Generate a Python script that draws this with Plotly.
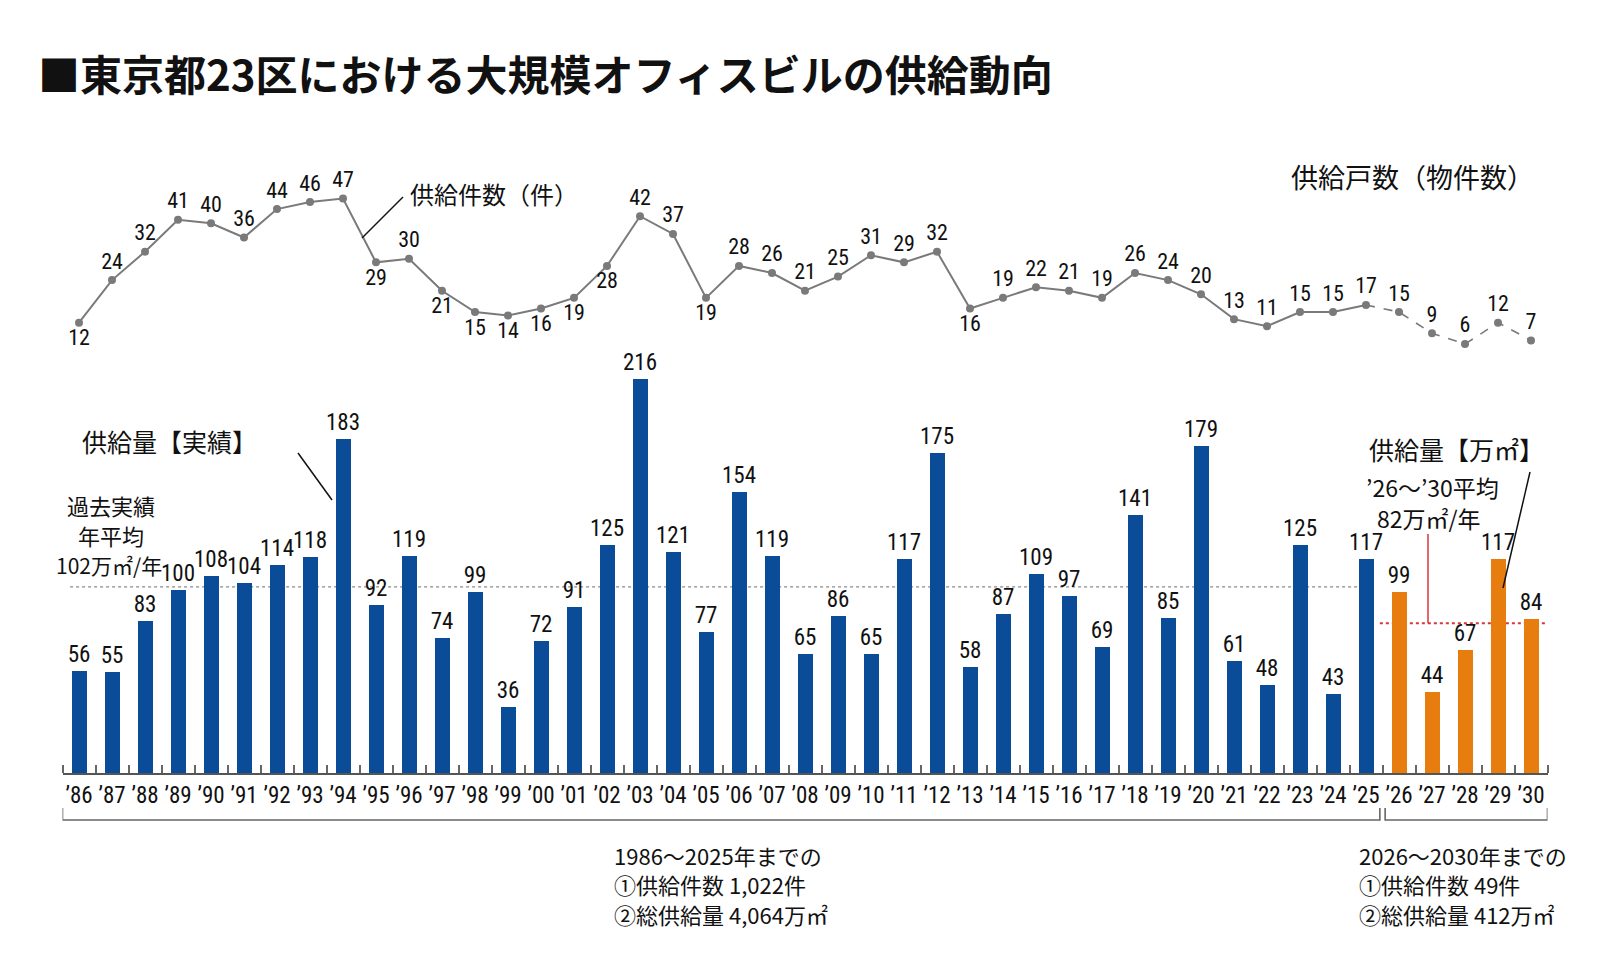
import plotly.graph_objects as go

W, H = 1617, 973

# data
YEARS = ["’86", "’87", "’88", "’89", "’90", "’91", "’92", "’93", "’94", "’95",
         "’96", "’97", "’98", "’99", "’00", "’01", "’02", "’03", "’04", "’05",
         "’06", "’07", "’08", "’09", "’10", "’11", "’12", "’13", "’14", "’15",
         "’16", "’17", "’18", "’19", "’20", "’21", "’22", "’23", "’24", "’25",
         "’26", "’27", "’28", "’29", "’30"]
SUPPLY = [56, 55, 83, 100, 108, 104, 114, 118, 183, 92,
          119, 74, 99, 36, 72, 91, 125, 216, 121, 77,
          154, 119, 65, 86, 65, 117, 175, 58, 87, 109,
          97, 69, 141, 85, 179, 61, 48, 125, 43, 117,
          99, 44, 67, 117, 84]
COUNTS = [12, 24, 32, 41, 40, 36, 44, 46, 47, 29,
          30, 21, 15, 14, 16, 19, 28, 42, 37, 19,
          28, 26, 21, 25, 31, 29, 32, 16, 19, 22,
          21, 19, 26, 24, 20, 13, 11, 15, 15, 17,
          15, 9, 6, 12, 7]
FORECAST = ["’26", "’27", "’28", "’29", "’30"]
COUNT_BELOW = ["’86", "’95", "’97", "’98", "’99", "’00", "’01", "’02", "’05", "’13"]
AVG_PAST = 102
AVG_PLAN = 82

BLUE = "#0B4C99"
ORANGE = "#E67D0E"
GRAY = "#7a7a7a"
RED = "#D8363C"
NUM_FONT = "Liberation Sans Narrow, Roboto Condensed, Noto Sans, sans-serif"
JP_FONT = "Noto Sans CJK JP, sans-serif"


def px(x):
    return x / W


def py(y):
    return 1 - y / H


xs = list(range(len(YEARS)))
last_actual = YEARS.index("’25")
bar_colors = [ORANGE if y in FORECAST else BLUE for y in YEARS]

fig = go.Figure()

fig.add_trace(go.Bar(
    x=xs, y=SUPPLY,
    marker=dict(color=bar_colors, line=dict(width=0)),
    width=0.48,
    text=SUPPLY, textposition="outside", constraintext="none",
    textfont=dict(family=NUM_FONT, size=23, color="#111"),
    cliponaxis=False,
    hoverinfo="x+y",
))

fig.add_trace(go.Scatter(
    x=xs[:last_actual + 1], y=COUNTS[:last_actual + 1],
    mode="lines", line=dict(color=GRAY, width=2),
    xaxis="x2", yaxis="y2", hoverinfo="skip",
))
fig.add_trace(go.Scatter(
    x=xs[last_actual:], y=COUNTS[last_actual:],
    mode="lines", line=dict(color=GRAY, width=1.6, dash="dash"),
    xaxis="x2", yaxis="y2", hoverinfo="skip",
))
fig.add_trace(go.Scatter(
    x=xs, y=COUNTS,
    mode="markers+text",
    marker=dict(color=GRAY, size=8),
    text=COUNTS,
    textposition=["bottom center" if y in COUNT_BELOW else "top center" for y in YEARS],
    textfont=dict(family=NUM_FONT, size=22, color="#111"),
    cliponaxis=False,
    xaxis="x2", yaxis="y2",
))

xdom = [px(62.5), px(1547.5)]
xr = [-0.5, len(YEARS) - 0.5]


def note(text, x, y, size, anchor="left", weight="normal"):
    return dict(text=text, x=px(x), y=py(y), xref="paper", yref="paper",
                xanchor=anchor, yanchor="middle", showarrow=False,
                font=dict(family=JP_FONT, size=size, color="#111", weight=weight))


annotations = [
    note("■東京都23区における大規模オフィスビルの供給動向", 36, 72, 42, weight="bold"),
    note("供給件数（件）", 408, 193, 24),
    note("供給戸数（物件数）", 1289, 176, 27),
    note("供給量【実績】", 80, 441, 25),
    note("過去実績", 111, 505, 22, "center"),
    note("年平均", 111, 535, 22, "center"),
    note("102万㎡/年", 109, 565, 21, "center"),
    note("供給量【万㎡】", 1367, 449, 25),
    note("’26～’30平均", 1432, 487, 23, "center"),
    note("82万㎡/年", 1429, 518, 23, "center"),
    note("1986～2025年までの", 612, 855, 22),
    note("①供給件数 1,022件", 612, 884, 22),
    note("②総供給量 4,064万㎡", 612, 914, 22),
    note("2026～2030年までの", 1357, 855, 22),
    note("①供給件数 49件", 1357, 884, 22),
    note("②総供給量 412万㎡", 1357, 914, 22),
]


def seg(x0, y0, x1, y1, color="#111", width=1.5):
    return dict(type="line", xref="paper", yref="paper",
                x0=px(x0), y0=py(y0), x1=px(x1), y1=py(y1),
                line=dict(color=color, width=width))


b0, b1 = last_actual + 0.42, last_actual + 0.58
shapes = [
    # average lines
    dict(type="line", xref="x", yref="y", x0=-0.27, x1=last_actual, y0=AVG_PAST, y1=AVG_PAST,
         line=dict(color="#8a8a8a", width=1.2, dash="dot"), layer="below"),
    dict(type="line", xref="x", yref="y", x0=b0, x1=xr[1], y0=AVG_PLAN, y1=AVG_PLAN,
         line=dict(color=RED, width=2, dash="dot"), layer="below"),
    dict(type="line", xref="paper", yref="y", x0=px(1428), x1=px(1428), y0=AVG_PLAN, y1=131,
         line=dict(color=RED, width=1.5)),
    # leader lines
    seg(362, 238, 403, 197),
    seg(298, 453, 332, 500),
    seg(1530, 472, 1503, 588),
    # brackets under the axis
    dict(type="path", xref="x", yref="paper",
         path=f"M {xr[0]},{py(808)} L {xr[0]},{py(820)} L {b0},{py(820)} L {b0},{py(808)}",
         line=dict(color="#666", width=1.6)),
    dict(type="path", xref="x", yref="paper",
         path=f"M {b1},{py(808)} L {b1},{py(820)} L {xr[1]},{py(820)} L {xr[1]},{py(808)}",
         line=dict(color="#666", width=1.6)),
]

fig.update_layout(
    width=W, height=H,
    margin=dict(l=0, r=0, t=0, b=0),
    paper_bgcolor="white", plot_bgcolor="rgba(0,0,0,0)",
    showlegend=False,
    bargap=0,
    xaxis=dict(domain=xdom, range=xr, tickmode="array", tickvals=xs, ticktext=YEARS,
               ticks="", showgrid=False, zeroline=False,
               showline=True, linecolor="#555", linewidth=2,
               tickfont=dict(family=NUM_FONT, size=23, color="#111"),
               minor=dict(tickmode="linear", tick0=-0.5, dtick=1, ticks="inside",
                          ticklen=8, tickwidth=1.5, tickcolor="#666", showgrid=False),
               fixedrange=True),
    yaxis=dict(domain=[py(773), py(353.25)], range=[0, 230], visible=False, fixedrange=True),
    xaxis2=dict(domain=xdom, range=xr, anchor="y2", visible=False, fixedrange=True),
    yaxis2=dict(domain=[py(365.3), py(187.8)], range=[0, 50], anchor="x2",
                visible=False, fixedrange=True),
    annotations=annotations,
    shapes=shapes,
)

fig.write_html("out.html", config={"displayModeBar": False},
               post_script="document.body.style.margin='0';document.body.style.overflow='hidden';")
